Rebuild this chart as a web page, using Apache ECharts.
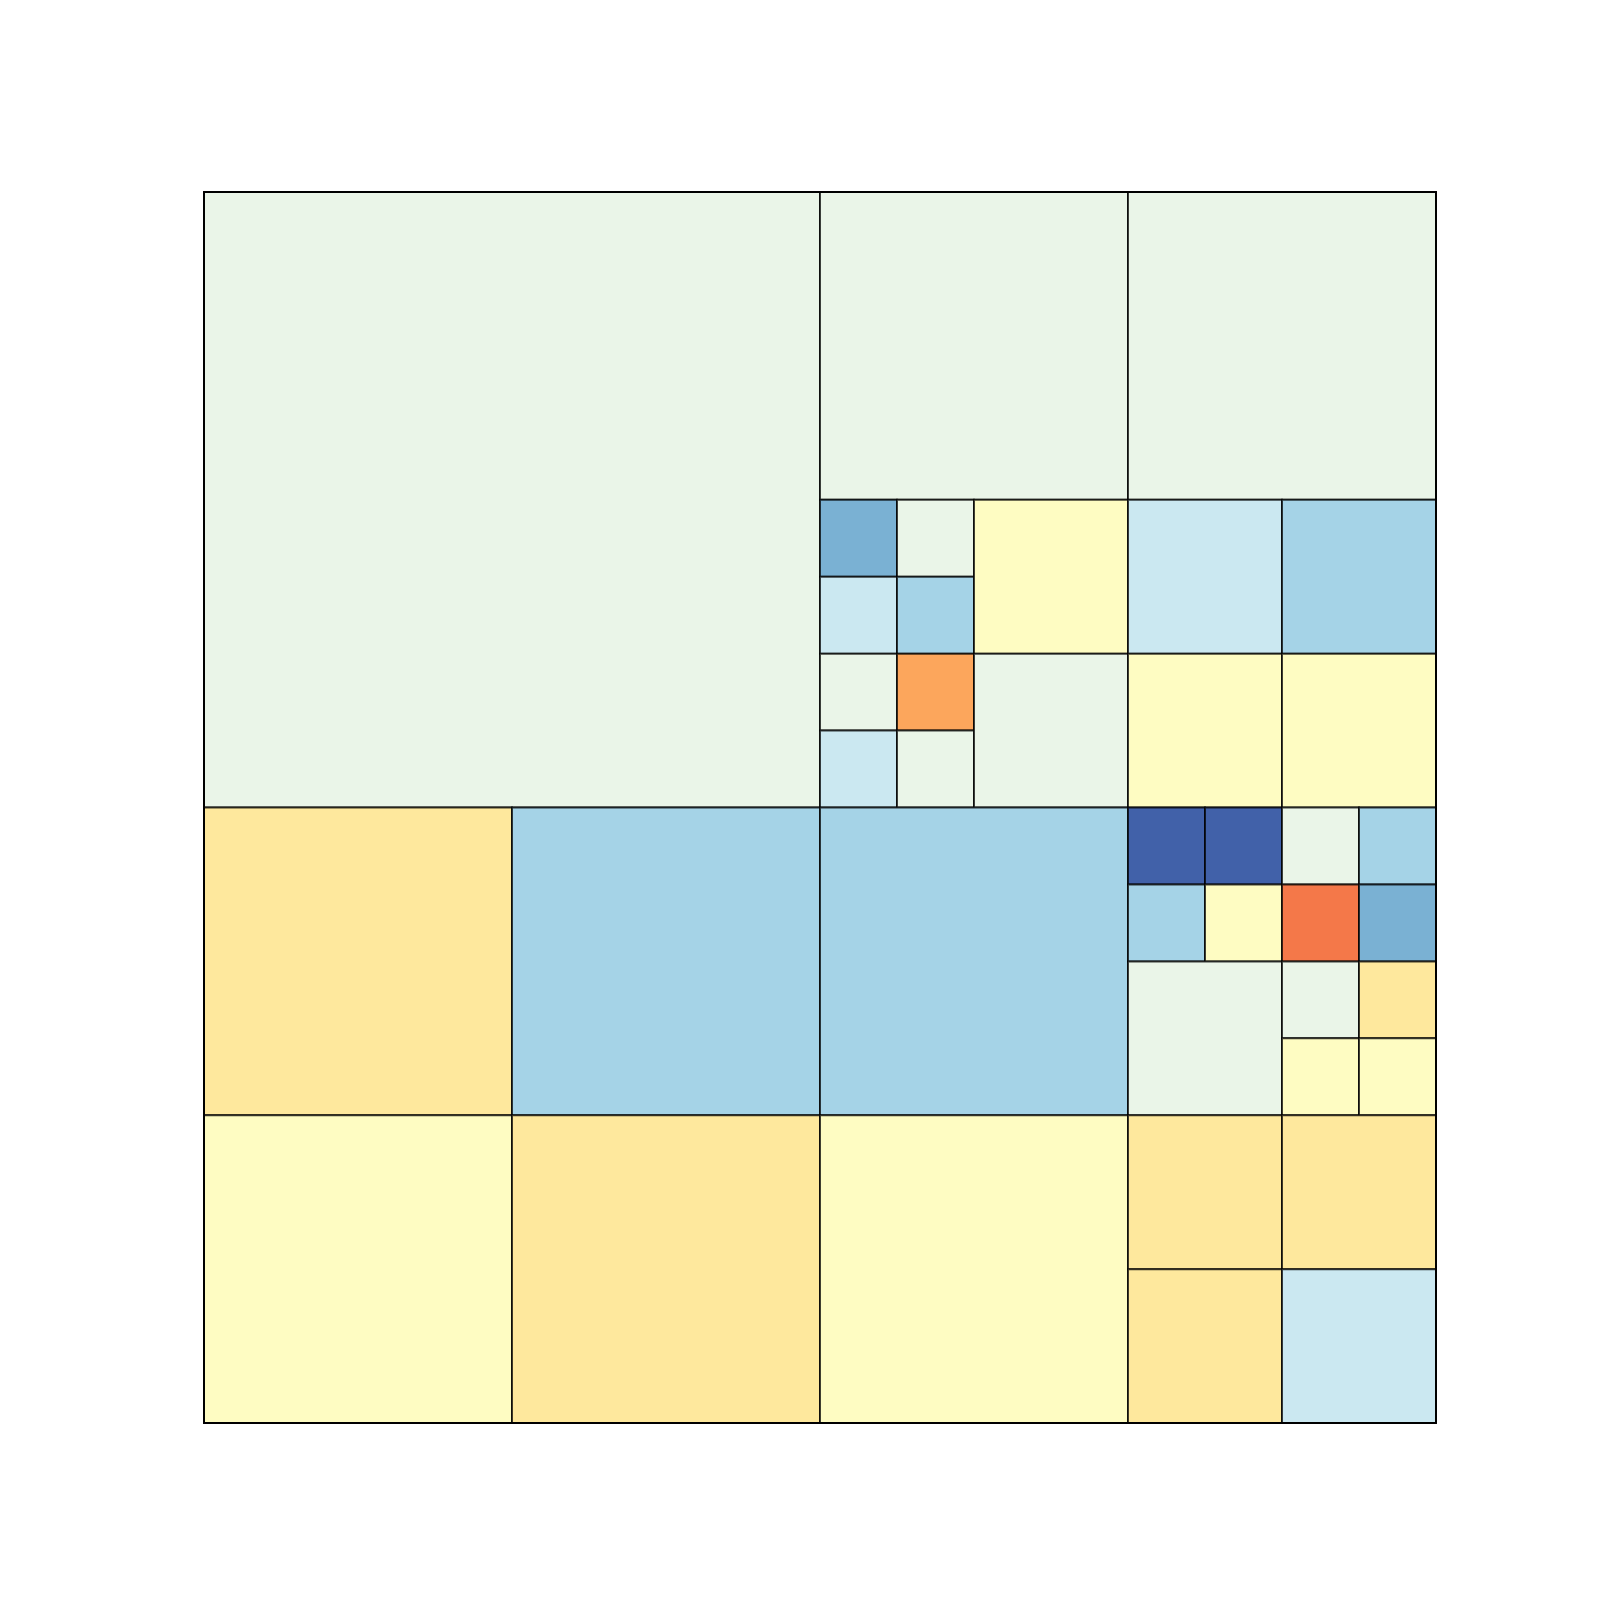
<!DOCTYPE html>
<html><head><meta charset="utf-8">
<script src="https://cdn.jsdelivr.net/npm/echarts@6/dist/echarts.min.js"></script>
<style>html,body{margin:0;padding:0;background:#fff}#c{width:1600px;height:1600px}</style>
</head><body><div id="c"></div>
<script>
// quadtree cells in grid units (0..16), y measured from the top
var cellX    = [0,8,12, 8,9,8,9,10, 8,9,8,9,10, 12,14,12,14, 0,4,8, 12,13,12,13, 14,15,14,15, 12, 14,15,14,15, 0,4,8, 12,14,12,14];
var cellY    = [0,0,0,  4,4,5,5,4,  6,6,7,7,6,  4,4,6,6,     8,8,8, 8,8,9,9,     8,8,9,9,     10, 10,10,11,11, 12,12,12, 12,12,14,14];
var cellSize = [8,4,4,  1,1,1,1,2,  1,1,1,1,2,  2,2,2,2,     4,4,4, 1,1,1,1,     1,1,1,1,     2,  1,1,1,1,     4,4,4, 2,2,2,2];
var cellLevel= [4,4,4,  1,4,3,2,5,  4,7,3,4,4,  3,2,5,5,     6,2,2, 0,0,2,5,     4,2,8,1,     4,  4,6,5,5,     5,6,5, 6,6,6,3];
var palette  = ['#4161a9','#7ab1d3','#a5d3e7','#cbe8f1','#eaf5e8','#fefcc2','#fee89d','#fca65c','#f47849'];

var data = cellX.map(function(x,i){ return [x, cellY[i], cellSize[i], cellLevel[i]]; });

var chart = echarts.init(document.getElementById('c'));
chart.setOption({
  animation:false,
  grid:{left:204, top:192, width:1232, height:1231},
  xAxis:[
    {type:'value', min:0, max:16, position:'bottom', z:10, axisLine:{show:true,onZero:false,lineStyle:{color:'#000',width:2}}, axisTick:{show:false}, axisLabel:{show:false}, splitLine:{show:false}},
    {type:'value', min:0, max:16, position:'top', z:10, axisLine:{show:true,onZero:false,lineStyle:{color:'#000',width:2}}, axisTick:{show:false}, axisLabel:{show:false}, splitLine:{show:false}}
  ],
  yAxis:[
    {type:'value', min:0, max:16, inverse:true, position:'left', z:10, axisLine:{show:true,onZero:false,lineStyle:{color:'#000',width:2}}, axisTick:{show:false}, axisLabel:{show:false}, splitLine:{show:false}},
    {type:'value', min:0, max:16, inverse:true, position:'right', z:10, axisLine:{show:true,onZero:false,lineStyle:{color:'#000',width:2}}, axisTick:{show:false}, axisLabel:{show:false}, splitLine:{show:false}}
  ],
  series:[{
    type:'custom',
    xAxisIndex:0, yAxisIndex:0,
    data:data,
    renderItem:function(params, api){
      var x=api.value(0), y=api.value(1), s=api.value(2), lv=api.value(3);
      var p0=api.coord([x,y]), p1=api.coord([x+s,y+s]);
      return {type:'rect',
        shape:{x:p0[0], y:p0[1], width:p1[0]-p0[0], height:p1[1]-p0[1]},
        style:{fill:palette[lv], stroke:'rgba(0,0,0,0.75)', lineWidth:2}};
    }
  }]
});
</script></body></html>
